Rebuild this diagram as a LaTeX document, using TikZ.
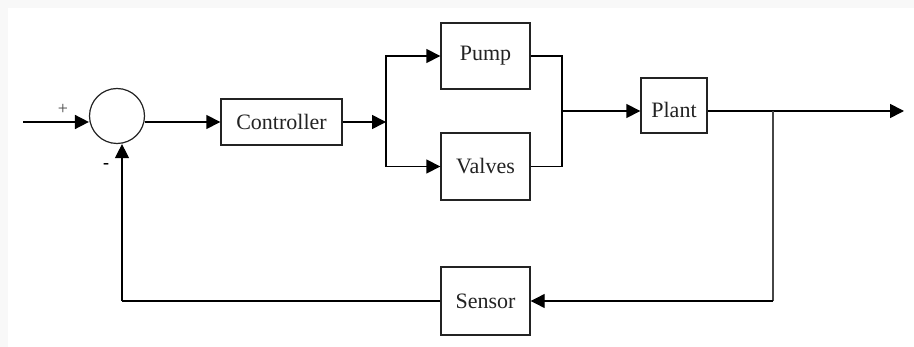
\documentclass[tikz,border=0pt]{standalone}
\usepackage{fontspec}
\setmainfont{Liberation Serif}
\usepackage{tikz}
\usetikzlibrary{shapes,arrows.meta,positioning,calc}
\usepackage{xcolor}
\definecolor{ink-gray}{RGB}{35,35,35}
\definecolor{fb-gray}{RGB}{70,70,70}
\definecolor{page-gray}{RGB}{248,248,248}

\begin{document}
\begin{tikzpicture}[x=0.5pt, y=-0.5pt,
    block/.style={rectangle, draw=ink-gray, line width=0.7pt, text=ink-gray, inner sep=0pt, font=\fontsize{11}{13}\selectfont},
    sumnode/.style={circle, draw=ink-gray, line width=0.6pt, minimum size=27.5pt, inner sep=0pt},
    wire/.style={draw=black, line width=0.8pt},
    fbwire/.style={draw=fb-gray, line width=0.6pt},
    tip/.style={-{Triangle[length=7pt, width=7pt]}}]

    % Page background
    \fill[page-gray] (0,0) rectangle (914,347);
    \fill[white] (8,8) rectangle (914,347);

    % Summing junction
    \node[sumnode] (sum) at (117,116) {};
    \node[font=\fontsize{9}{10}\selectfont, text=fb-gray] (plus) at (63,109) {+};
    \node[font=\bfseries\fontsize{9}{10}\selectfont] (minus) at (106,166) {-};

    % Blocks
    \node[block, minimum width=60.5pt, minimum height=23pt] (ctrl) at (281.5,122) {Controller};
    \node[block, minimum width=44.5pt, minimum height=33pt] (pump) at (485.5,56) {Pump};
    \node[block, minimum width=44.5pt, minimum height=33.5pt] (valves) at (485.5,166.5) {Valves};
    \node[block, minimum width=33pt, minimum height=27.5pt, text height=12.5pt, text depth=0pt] (plant) at (674,105.5) {Plant};
    \node[block, minimum width=44.5pt, minimum height=34pt] (sensor) at (485.5,301) {Sensor};

    % Branch and tap points
    \coordinate (in) at (23,122);
    \coordinate (split) at (386,122);
    \coordinate (join) at (562,111);
    \coordinate (tap) at (773,111);
    \coordinate (out) at (904,111);
    \coordinate (fb) at (122,301);

    % Forward path
    \draw[wire, tip] (in) -- (in -| sum.west);
    \draw[wire, tip] (split -| sum.east) -- (ctrl.west);
    \draw[wire, tip] (ctrl.east) -- (split);
    \draw[wire, tip] (split) |- (pump.west);
    \draw[wire, tip] (split) |- (valves.west);
    \draw[wire] (pump.east) -| (join);
    \draw[wire] (valves.east) -| (join);
    \draw[wire, tip] (join) -- (join -| plant.west);
    \draw[wire, tip] (join -| plant.east) -- (out);

    % Feedback path
    \draw[fbwire] (tap) -- (tap |- sensor.east);
    \draw[fbwire, draw=black, tip] (tap |- sensor.east) -- (sensor.east);
    \draw[fbwire, draw=black] (sensor.west) -- (fb);
    \draw[fbwire, draw=black, tip] (fb) -- (fb |- sum.south);
\end{tikzpicture}
\end{document}
